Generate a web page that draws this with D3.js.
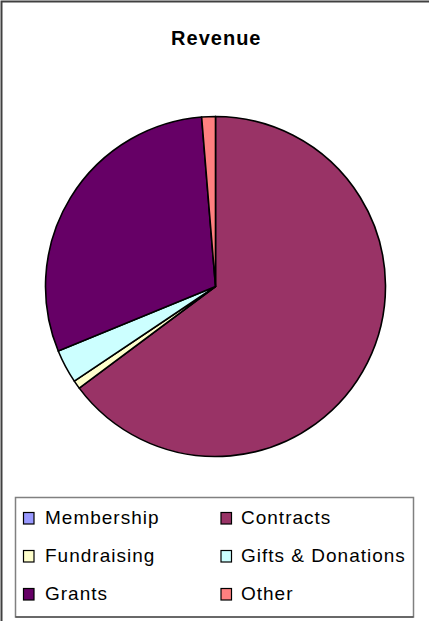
<!DOCTYPE html>
<html>
<head>
<meta charset="utf-8">
<script src="https://cdn.jsdelivr.net/npm/d3@7/dist/d3.min.js"></script>
<style>
html,body{margin:0;padding:0;background:#fff;}
svg{display:block;font-family:Arial,"Liberation Sans",sans-serif;}
</style>
</head>
<body>
<svg id="chart" width="429" height="621"></svg>
<script>
// Data (percent of revenue)
const categories = ["Membership", "Contracts", "Fundraising", "Gifts & Donations", "Grants", "Other"];
const values = [0, 64.8, 0.8, 3.2, 29.9, 1.3];
const colors = ["#9999FF", "#993366", "#FFFFCC", "#CCFFFF", "#660066", "#FF8080"];
const title = "Revenue";

const svg = d3.select("#chart");
const W = 429, H = 621;

// outer frame (left & top visible)
svg.append("path")
  .attr("d", `M1.5,${H} V1.5 H${W}`)
  .attr("fill", "none").attr("stroke", "#404040").attr("stroke-width", 2);

// title
svg.append("text")
  .attr("x", 216.3).attr("y", 44.5)
  .attr("text-anchor", "middle")
  .attr("font-size", 20).attr("font-weight", "bold")
  .attr("letter-spacing", 1)
  .attr("fill", "#000")
  .text(title);

// pie
const cx = 215.5, cy = 286.5, R = 170;
const data = categories.map((c, i) => ({name: c, value: values[i], color: colors[i]}));
const pie = d3.pie().sort(null).value(d => d.value).startAngle(0).endAngle(2 * Math.PI);
const arc = d3.arc().innerRadius(0).outerRadius(R);
const g = svg.append("g").attr("transform", `translate(${cx},${cy})`);
g.selectAll("path.slice")
  .data(pie(data))
  .join("path")
  .attr("class", "slice")
  .attr("d", arc)
  .attr("fill", d => d.data.color)
  .attr("stroke", "#000")
  .attr("stroke-width", 1.6)
  .attr("stroke-linejoin", "round");

// legend
const lg = svg.append("g");
lg.append("rect")
  .attr("x", 15.5).attr("y", 497.5).attr("width", 398).attr("height", 119.5)
  .attr("fill", "#fff").attr("stroke", "#808080").attr("stroke-width", 1.5);
lg.append("line")
  .attr("x1", 15.5).attr("x2", 413.5).attr("y1", 617).attr("y2", 617)
  .attr("stroke", "#333").attr("stroke-width", 1);

const colX = [23.5, 221];
const textX = [45, 241];
const rowY = [524, 562, 600];
const items = lg.selectAll("g.item")
  .data(data)
  .join("g")
  .attr("class", "item")
  .attr("transform", (d, i) => `translate(${colX[i % 2]},${rowY[Math.floor(i / 2)]})`);
items.append("rect")
  .attr("x", 0).attr("y", -11.5).attr("width", 10.5).attr("height", 11.5)
  .attr("fill", d => d.color).attr("stroke", "#000").attr("stroke-width", 1.2);
items.append("text")
  .attr("x", (d, i) => textX[i % 2] - colX[i % 2]).attr("y", 0)
  .attr("font-size", 19).attr("letter-spacing", 1)
  .attr("fill", "#000")
  .text(d => d.name);
</script>
</body>
</html>
